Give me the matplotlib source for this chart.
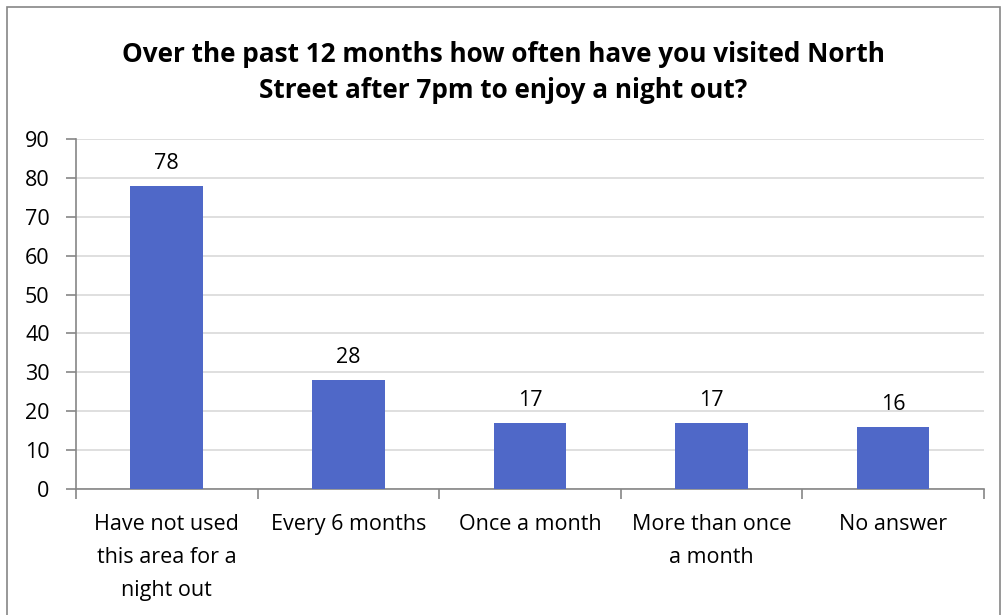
import matplotlib
matplotlib.use("Agg")
import matplotlib.pyplot as plt
from matplotlib.patches import Rectangle

categories = ["Have not used\nthis area for a\nnight out", "Every 6 months", "Once a month",
              "More than once\na month", "No answer"]
counts = [78, 28, 17, 17, 16]
y_ticks = [0, 10, 20, 30, 40, 50, 60, 70, 80, 90]

plt.rcParams['font.family'] = ['Open Sans', 'DejaVu Sans']

fig = plt.figure(figsize=(10.07, 6.15), dpi=100)
ax = fig.add_axes([0.0755, 0.205, 0.9015, 0.569])

bar_color = '#4F68C8'
x = list(range(len(counts)))
bars = ax.bar(x, counts, width=0.4, color=bar_color, zorder=3)
for xi, v in zip(x, counts):
    ax.text(xi, v + 3.0, str(v), ha='center', va='bottom', fontsize=15.5, color='black')

ax.set_xlim(-0.5, len(counts) - 0.5)
ax.set_ylim(0, 90)
ax.set_yticks(y_ticks)
ax.set_yticklabels([str(t) for t in y_ticks], fontsize=15.5)
ax.yaxis.grid(True, color='#D9D9D9', linewidth=1.2, zorder=0)
ax.set_axisbelow(True)

# category boundary ticks on x
ax.set_xticks([i - 0.5 for i in range(len(counts) + 1)])
ax.set_xticklabels([])
ax.set_xticks(x, minor=True)
ax.set_xticklabels(categories, minor=True, fontsize=15.5, linespacing=1.74, va='top')
ax.tick_params(axis='x', which='minor', length=0, pad=18)
ax.tick_params(axis='x', which='major', length=7, color='#868686', width=1.2)
ax.tick_params(axis='y', length=7, color='#868686', width=1.2, pad=12)

for side in ['top', 'right']:
    ax.spines[side].set_visible(False)
for side in ['left', 'bottom']:
    ax.spines[side].set_color('#868686')
    ax.spines[side].set_linewidth(1.2)

fig.text(0.5, 0.882, "Over the past 12 months how often have you visited North\nStreet after 7pm to enjoy a night out?",
         ha='center', va='center', fontsize=18.8, fontweight='bold', linespacing=1.42)

fig.patches.append(Rectangle((7 / 1007, -0.05), 993 / 1007, 1 - 7 / 615 + 0.05, transform=fig.transFigure,
                             fill=False, edgecolor='#868686', linewidth=1.2))

fig.savefig("out.png", dpi=100)
